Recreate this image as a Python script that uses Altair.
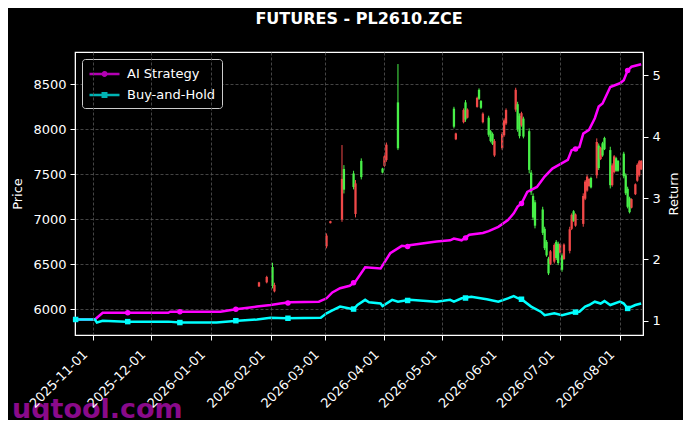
import altair as alt
import pandas as pd

# ---------------- data ----------------
candle_dates = ["2026-01-26","2026-01-30","2026-02-02","2026-02-03","2026-03-02","2026-03-04","2026-03-10","2026-03-11","2026-03-16","2026-03-17",
                "2026-03-20","2026-03-31","2026-04-01","2026-04-02","2026-04-08","2026-05-07","2026-05-08","2026-05-12","2026-05-13","2026-05-14",
                "2026-05-19","2026-05-20","2026-05-21","2026-05-22","2026-05-25","2026-05-26","2026-05-27","2026-05-28","2026-06-01","2026-06-02",
                "2026-06-03","2026-06-08","2026-06-09","2026-06-10","2026-06-11","2026-06-12","2026-06-15","2026-06-16","2026-06-17","2026-06-18",
                "2026-06-22","2026-06-23","2026-06-24","2026-06-25","2026-06-26","2026-06-28","2026-06-29","2026-06-30","2026-07-01","2026-07-02",
                "2026-07-03","2026-07-06","2026-07-07","2026-07-08","2026-07-09","2026-07-13","2026-07-14","2026-07-15","2026-07-16","2026-07-17",
                "2026-07-20","2026-07-21","2026-07-22","2026-07-23","2026-07-24","2026-07-27","2026-07-28","2026-07-29","2026-07-30","2026-07-31",
                "2026-08-03","2026-08-04","2026-08-05","2026-08-06","2026-08-07","2026-08-09","2026-08-10","2026-08-11","2026-08-12"]
candle_open = [6255,6300,6470,6200,6700,6958,7000,7560,7510,7060,
               7650,7565,7595,7660,8300,8230,7890,8080,8300,8130,
               8250,8440,8315,8080,8130,7980,7950,7710,7790,7935,
               8065,8220,8280,8150,8045,8120,7980,7520,7260,7190,
               7110,6895,6750,6565,6505,6530,6750,6730,6630,6600,
               6560,6650,6895,7090,6930,6950,7230,7320,7370,7460,
               7490,7820,7670,7845,7905,7770,7380,7525,7680,7650,
               7730,7490,7340,7235,7130,7280,7430,7490,7555]
candle_high = [6306,6373,6518,6296,6844,6984,7826,7603,7540,7437,
               7678,7573,7714,7854,8726,8251,7963,8233,8326,8233,
               8363,8456,8326,8189,8152,7993,7966,7892,7970,8122,
               8233,8463,8307,8178,8196,8141,8011,7548,7289,7214,
               7140,6918,6770,6584,6659,6733,6770,6752,6733,6622,
               6733,6918,7066,7103,7066,7289,7437,7492,7456,7474,
               7900,7844,7807,7862,7918,7807,7622,7714,7695,7659,
               7751,7511,7363,7252,7233,7400,7622,7659,7659]
candle_low = [6248,6289,6233,6189,6678,6955,6973,7288,7333,7022,
              7444,7511,7584,7640,7770,8011,7881,8067,8084,8122,
              8241,8326,8226,8067,7918,7856,7826,7695,7770,7918,
              8048,8196,7974,7900,8030,7900,7511,7270,6992,6900,
              6826,6659,6584,6381,6492,6511,6548,6492,6622,6418,
              6548,6622,6881,6973,6918,6918,7214,7307,7363,7344,
              7456,7548,7659,7695,7770,7344,7363,7511,7529,7529,
              7456,7270,7122,7066,7122,7270,7418,7474,7548]
candle_close = [6300,6360,6260,6270,6820,6980,7450,7330,7360,7400,
                7470,7520,7700,7830,7790,8030,7955,8215,8110,8220,
                8350,8340,8240,8175,7940,7870,7840,7870,7950,8100,
                8215,8440,8000,7925,8180,7920,7550,7300,7020,6930,
                6850,6680,6600,6400,6645,6715,6570,6515,6725,6440,
                6720,6890,7050,6985,7055,7260,7420,7475,7450,7355,
                7860,7570,7795,7710,7780,7380,7600,7700,7540,7540,
                7480,7290,7140,7080,7225,7390,7605,7645,7650]

ai_dates = ["2025-10-23","2025-11-02","2025-11-06","2025-12-10","2025-12-11","2026-01-06","2026-01-14","2026-01-25","2026-02-01","2026-02-06",
            "2026-02-11","2026-02-26","2026-03-02","2026-03-05","2026-03-09","2026-03-14","2026-03-17","2026-03-22","2026-03-30","2026-04-04",
            "2026-04-10","2026-04-13","2026-04-14","2026-04-28","2026-05-05","2026-05-07","2026-05-11","2026-05-15","2026-05-22","2026-05-25",
            "2026-05-30","2026-06-04","2026-06-07","2026-06-09","2026-06-11","2026-06-14","2026-06-19","2026-06-23","2026-06-27","2026-07-02",
            "2026-07-05","2026-07-07","2026-07-11","2026-07-13","2026-07-16","2026-07-19","2026-07-21","2026-07-23","2026-07-27","2026-08-01",
            "2026-08-03","2026-08-05","2026-08-07","2026-08-12"]
ai_values = [1.02,1.02,1.13,1.13,1.147,1.147,1.186,1.23,1.256,1.28,
             1.30,1.31,1.365,1.46,1.53,1.57,1.64,1.87,1.85,2.10,
             2.22,2.21,2.23,2.29,2.31,2.34,2.31,2.40,2.43,2.46,
             2.53,2.64,2.75,2.86,2.91,3.10,3.18,3.35,3.48,3.57,
             3.62,3.78,3.83,4.05,4.11,4.30,4.49,4.54,4.81,4.87,
             4.92,5.08,5.14,5.18]

bh_dates = ["2025-10-23","2025-11-02","2025-11-03","2025-11-06","2025-11-18","2025-12-10","2025-12-16","2026-01-04","2026-01-15","2026-01-25",
            "2026-02-01","2026-02-09","2026-02-27","2026-03-02","2026-03-05","2026-03-09","2026-03-14","2026-03-16","2026-03-18","2026-03-22",
            "2026-03-24","2026-03-30","2026-03-31","2026-04-05","2026-04-08","2026-04-14","2026-04-28","2026-05-05","2026-05-07","2026-05-11",
            "2026-05-16","2026-05-24","2026-05-30","2026-06-04","2026-06-07","2026-06-09","2026-06-11","2026-06-16","2026-06-21","2026-06-23",
            "2026-06-28","2026-07-02","2026-07-07","2026-07-11","2026-07-14","2026-07-16","2026-07-19","2026-07-22","2026-07-24","2026-07-27",
            "2026-08-01","2026-08-03","2026-08-05","2026-08-09","2026-08-12"]
bh_values = [1.02,1.02,0.97,1.00,0.985,0.985,0.97,0.97,1.00,1.02,
             1.05,1.04,1.05,1.12,1.17,1.23,1.20,1.186,1.256,1.34,
             1.30,1.28,1.24,1.34,1.31,1.34,1.31,1.34,1.31,1.365,
             1.39,1.35,1.31,1.365,1.40,1.37,1.35,1.23,1.147,1.09,
             1.12,1.09,1.13,1.147,1.23,1.256,1.31,1.28,1.32,1.256,
             1.31,1.28,1.20,1.256,1.28]

marker_dates = ["2025-10-23","2025-11-19","2025-12-16","2026-01-14","2026-02-10","2026-03-16",
                "2026-04-13","2026-05-13","2026-06-11","2026-07-09","2026-08-05"]
ai_marker_values = [1.02,1.13,1.147,1.186,1.29,1.62,2.21,2.35,2.91,3.80,5.08]
bh_marker_values = [1.02,0.985,0.97,1.00,1.04,1.19,1.33,1.37,1.35,1.14,1.20]

series_names = ["AI Strategy", "Buy-and-Hold"]
series_colors = ["#ff00ff", "#00ffff"]
month_ticks = ["2025-11-01","2025-12-01","2026-01-01","2026-02-01","2026-03-01",
               "2026-04-01","2026-05-01","2026-06-01","2026-07-01","2026-08-01"]
price_ticks = [6000, 6500, 7000, 7500, 8000, 8500]
return_ticks = [1, 2, 3, 4, 5]
watermark_text = ["uqtool.com"]

# ---------------- tables ----------------
candles = pd.DataFrame({"date": candle_dates, "open": candle_open, "high": candle_high,
                        "low": candle_low, "close": candle_close})
ai_df = pd.DataFrame({"date": ai_dates, "value": ai_values})
bh_df = pd.DataFrame({"date": bh_dates, "value": bh_values})
ai_markers = pd.DataFrame({"date": marker_dates, "value": ai_marker_values, "series": series_names[0]})
bh_markers = pd.DataFrame({"date": marker_dates, "value": bh_marker_values, "series": series_names[1]})
all_markers = pd.concat([ai_markers, bh_markers])
wm_df = pd.DataFrame({"t": watermark_text})

FONT = "DejaVu Sans"
RED = "#f04848"
GREEN = "#48f048"


def dt(s, hours=0):
    y, m, d = (int(v) for v in s.split("-"))
    return alt.DateTime(year=y, month=m, date=d, hours=hours, utc=True)


xscale = alt.Scale(type="utc", domain=[dt("2025-10-22", 16), dt("2026-08-12", 23)], nice=False)
xaxis = alt.Axis(values=[dt(s) for s in month_ticks], format="%Y-%m-%d", labelAngle=-45,
                 labelAlign="right", labelBaseline="middle", title=None, grid=True,
                 labelPadding=12, labelOffset=-8, labelOverlap=False, zindex=1)
pscale = alt.Scale(domain=[5715, 8860], nice=False, zero=False)
paxis = alt.Axis(values=price_ticks, format="d", title="Price", grid=True, orient="left",
                 titlePadding=8, labelPadding=4)
rscale = alt.Scale(domain=[0.767, 5.38], nice=False, zero=False)
raxis = alt.Axis(values=return_ticks, format="d", title="Return", grid=False, orient="right",
                 titlePadding=7, labelPadding=4, titleAngle=270, titleBaseline="top")
cscale = alt.Scale(domain=series_names, range=series_colors)


def X(field):
    return alt.X(f"{field}:T", scale=xscale, axis=xaxis)


def YR():
    return alt.Y("value:Q", scale=rscale, axis=raxis)


candle_color = alt.condition("datum.close >= datum.open", alt.value(RED), alt.value(GREEN))

wick = alt.Chart(candles).mark_rule(strokeWidth=1).encode(
    x=X("date"), y=alt.Y("low:Q", scale=pscale, axis=paxis), y2="high:Q", color=candle_color)
body = alt.Chart(candles).mark_rule(strokeWidth=2.3).encode(
    x=X("date"), y=alt.Y("open:Q", scale=pscale, axis=paxis), y2="close:Q", color=candle_color)

line_ai = alt.Chart(ai_df).mark_line(strokeWidth=2.5, color=series_colors[0]).encode(x=X("date"), y=YR())
line_bh = alt.Chart(bh_df).mark_line(strokeWidth=2.5, color=series_colors[1]).encode(x=X("date"), y=YR())
m_ai = alt.Chart(ai_markers).mark_point(shape="circle", filled=True, size=30, opacity=1,
                                        color=series_colors[0]).encode(x=X("date"), y=YR())
m_bh = alt.Chart(bh_markers).mark_point(shape="square", filled=True, size=30, opacity=1,
                                        color=series_colors[1]).encode(x=X("date"), y=YR())

# legend-only layer: zero-size points, so only its legend shows
legend_paths = [
    "M-1,0H3M0.77,0A0.23,0.23,0,1,1,1.23,0A0.23,0.23,0,1,1,0.77,0",
    "M-1,0H3M0.77,-0.23H1.23V0.23H0.77Z",
]
leg_props = dict(title=None, orient="top-left", offset=7, fillColor="black", strokeColor="#cccccc",
                 cornerRadius=3, padding=6, labelColor="white", labelFont=FONT, labelFontSize=13,
                 symbolSize=225, symbolStrokeWidth=2.5, labelOffset=21, rowPadding=5)
legend_layer = alt.Chart(all_markers).mark_point(filled=False, strokeWidth=2.5, size=0).encode(
    x=X("date"), y=YR(),
    color=alt.Color("series:N", scale=cscale, legend=alt.Legend(**leg_props)),
    shape=alt.Shape("series:N", scale=alt.Scale(domain=series_names, range=legend_paths),
                    legend=alt.Legend(**leg_props)),
)

watermark = alt.Chart(wm_df).mark_text(font=FONT, fontSize=27, fontWeight="bold", color="#8a0a8a",
                                       align="left", baseline="alphabetic").encode(
    text="t:N", x=alt.value(-63), y=alt.value(366))

price_layer = alt.layer(wick, body)
ret_layer = alt.layer(line_ai, line_bh, m_ai, m_bh, legend_layer, watermark)

chart = alt.layer(price_layer, ret_layer).resolve_scale(y="independent").properties(
    width=568, height=283,
    title=alt.TitleParams("FUTURES - PL2610.ZCE", font=FONT, fontSize=16, fontWeight="bold",
                          color="white", anchor="middle", baseline="alphabetic", offset=12,
                          frame="group"),
    padding={"left": 67, "top": 44, "right": 40, "bottom": 85},
    autosize=alt.AutoSizeParams(type="none"),
    background="black",
).configure_view(stroke="white", strokeWidth=1.2).configure_axis(
    labelFont=FONT, labelFontSize=13, labelColor="white",
    titleFont=FONT, titleFontSize=13, titleColor="white", titleFontWeight="normal",
    domainColor="white", tickColor="white", tickSize=5,
    gridColor="#555555", gridDash=[3, 2], gridWidth=0.8,
)

chart.save("out.html", embed_options={"renderer": "svg", "actions": False})
